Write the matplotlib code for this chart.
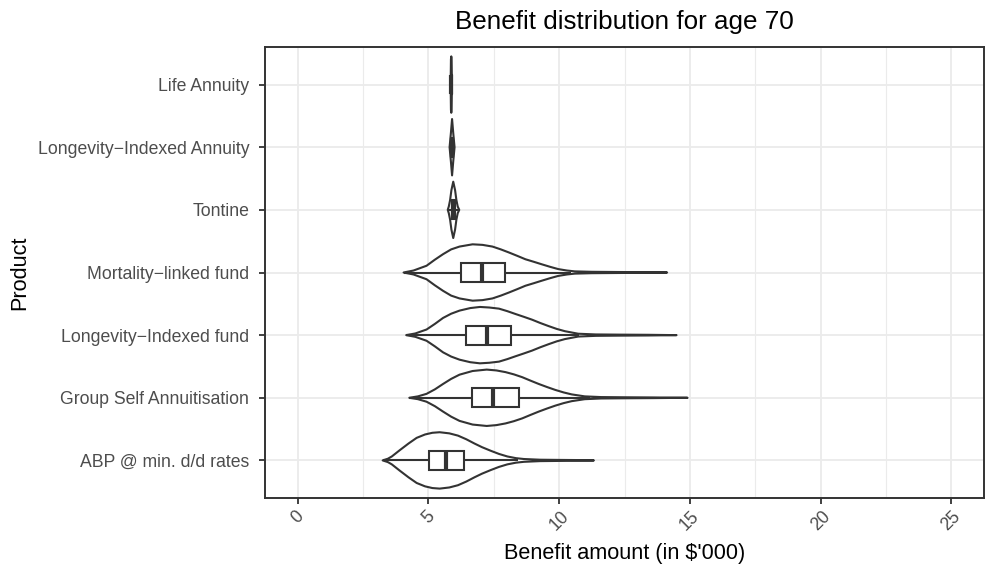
import numpy as np
import matplotlib
matplotlib.use("Agg")
import matplotlib.pyplot as plt
from matplotlib.patches import Rectangle, Polygon

plt.rcParams['font.family'] = ['Liberation Sans', 'DejaVu Sans']

# ---------------- data ----------------
products = ["ABP @ min. d/d rates", "Group Self Annuitisation", "Longevity\u2212Indexed fund",
            "Mortality\u2212linked fund", "Tontine", "Longevity\u2212Indexed Annuity", "Life Annuity"]

# violin outlines: benefit values and relative density (1 = widest point)
abp_vals = [3.25, 3.45, 3.6, 3.9, 4.24, 4.55, 4.87, 5.15, 5.43, 5.8, 6.13, 6.45, 6.76, 7.05, 7.39,
            7.7, 8.02, 8.35, 8.65, 9.27, 10.0, 10.8, 11.33]
abp_dens = [0.0, 0.06, 0.14, 0.36, 0.6, 0.8, 0.92, 0.98, 1.0, 0.96, 0.88, 0.75, 0.6, 0.47, 0.34,
            0.23, 0.14, 0.08, 0.05, 0.025, 0.018, 0.012, 0.0]

gsa_vals = [4.27, 4.6, 4.93, 5.25, 5.56, 5.87, 6.19, 6.69, 7.23, 7.6, 7.95, 8.27, 8.59, 8.9, 9.22,
            9.54, 9.85, 10.17, 10.48, 10.98, 11.6, 12.5, 13.6, 14.91]
gsa_dens = [0.0, 0.05, 0.14, 0.3, 0.49, 0.67, 0.82, 0.95, 1.0, 0.97, 0.91, 0.83, 0.73, 0.61, 0.49,
            0.38, 0.28, 0.19, 0.12, 0.05, 0.025, 0.018, 0.012, 0.0]

lif_vals = [4.15, 4.5, 4.93, 5.25, 5.56, 5.87, 6.19, 6.6, 6.97, 7.33, 7.7, 8.02, 8.33, 8.65, 8.96,
            9.28, 9.6, 9.91, 10.22, 10.73, 11.4, 12.3, 13.4, 14.49]
lif_dens = [0.0, 0.06, 0.2, 0.4, 0.61, 0.76, 0.87, 0.96, 1.0, 0.98, 0.94, 0.85, 0.75, 0.65, 0.55,
            0.43, 0.32, 0.22, 0.14, 0.05, 0.025, 0.018, 0.012, 0.0]

mlf_vals = [4.05, 4.43, 4.93, 5.24, 5.56, 5.87, 6.19, 6.69, 7.07, 7.45, 7.77, 8.08, 8.4, 8.71, 9.03,
            9.34, 9.66, 9.97, 10.3, 10.6, 11.23, 12.2, 13.2, 14.13]
mlf_dens = [0.0, 0.07, 0.24, 0.45, 0.65, 0.82, 0.92, 1.0, 0.98, 0.92, 0.82, 0.71, 0.59, 0.47, 0.38,
            0.29, 0.2, 0.12, 0.07, 0.04, 0.025, 0.018, 0.012, 0.0]

ton_vals = [5.74, 5.78, 5.83, 5.88, 5.95, 6.02, 6.07, 6.12, 6.18]
ton_dens = [0.0, 0.12, 0.35, 0.7, 1.0, 0.7, 0.35, 0.12, 0.0]

lia_vals = [5.81, 5.86, 5.905, 5.95, 6.0]
lia_dens = [0.0, 0.5, 1.0, 0.5, 0.0]

la_vals = [5.85, 5.862, 5.875, 5.888, 5.9]
la_dens = [0.0, 0.9, 1.0, 0.9, 0.0]

violin_vals = [abp_vals, gsa_vals, lif_vals, mlf_vals, ton_vals, lia_vals, la_vals]
violin_dens = [abp_dens, gsa_dens, lif_dens, mlf_dens, ton_dens, lia_dens, la_dens]

# box-plot statistics
q1 = [5.02, 6.66, 6.44, 6.25, 5.89, 5.88, 5.862]
med = [5.66, 7.48, 7.26, 7.05, 5.95, 5.91, 5.875]
q3 = [6.38, 8.47, 8.17, 7.93, 6.01, 5.94, 5.888]
whisk_lo = [3.25, 4.27, 4.15, 4.05, 5.74, 5.81, 5.85]
whisk_hi = [8.42, 11.19, 10.77, 10.45, 6.18, 6.0, 5.9]

x_ticks = [0, 5, 10, 15, 20, 25]

# ---------------- figure ----------------
fig = plt.figure(figsize=(9.85, 5.67), dpi=100)
ax = fig.add_axes([265 / 985, (567 - 498) / 567, (984 - 265) / 985, (498 - 47) / 567])

line_col = '#333333'
lw = 1.5
grid_col = '#EBEBEB'

ax.set_xlim(-1.25, 26.25)
ax.set_ylim(0.4, len(products) + 0.6)

# grid
for v in x_ticks:
    ax.axvline(v, color=grid_col, lw=1.3, zorder=0)
for v in np.arange(2.5, 25, 5):
    ax.axvline(v, color=grid_col, lw=0.8, zorder=0)
for i in range(len(products)):
    ax.axhline(i + 1, color=grid_col, lw=1.3, zorder=0)

vhalf = 0.45
bhalf = 0.15
for i in range(len(products)):
    y0 = i + 1
    xs = np.array(violin_vals[i])
    ws = np.array(violin_dens[i]) * vhalf
    pts = np.concatenate([np.column_stack([xs, y0 + ws]),
                          np.column_stack([xs[::-1], y0 - ws[::-1]])])
    ax.add_patch(Polygon(pts, closed=True, facecolor='white', edgecolor=line_col,
                         lw=lw, joinstyle='round', zorder=2))
    # whiskers
    ax.plot([whisk_lo[i], q1[i]], [y0, y0], color=line_col, lw=lw, zorder=3,
            solid_capstyle='butt')
    ax.plot([q3[i], whisk_hi[i]], [y0, y0], color=line_col, lw=lw, zorder=3,
            solid_capstyle='butt')
    # box
    ax.add_patch(Rectangle((q1[i], y0 - bhalf), q3[i] - q1[i], 2 * bhalf,
                           facecolor='white', edgecolor=line_col, lw=lw, zorder=4))
    ax.plot([med[i], med[i]], [y0 - bhalf, y0 + bhalf], color=line_col, lw=3.0,
            zorder=5, solid_capstyle='butt')

ax.set_yticks(range(1, len(products) + 1))
ax.set_yticklabels(products)
ax.set_xticks(x_ticks)
ax.set_xticklabels([str(v) for v in x_ticks], rotation=45, ha='center', va='top')

ax.tick_params(axis='both', colors=line_col, length=4.3, width=1.3, labelcolor='#4D4D4D',
               labelsize=12.7)
ax.tick_params(axis='y', pad=7)
ax.tick_params(axis='x', pad=3)
for s in ax.spines.values():
    s.set_color(line_col)
    s.set_linewidth(1.4)

ax.set_xlabel("Benefit amount (in $'000)", fontsize=15.6, color='black', labelpad=6)
ax.set_ylabel("Product", fontsize=15.6, color='black', labelpad=5)
ax.set_title("Benefit distribution for age 70", fontsize=18.7, color='black', pad=13)

fig.savefig("out.png", dpi=100, facecolor='white')
